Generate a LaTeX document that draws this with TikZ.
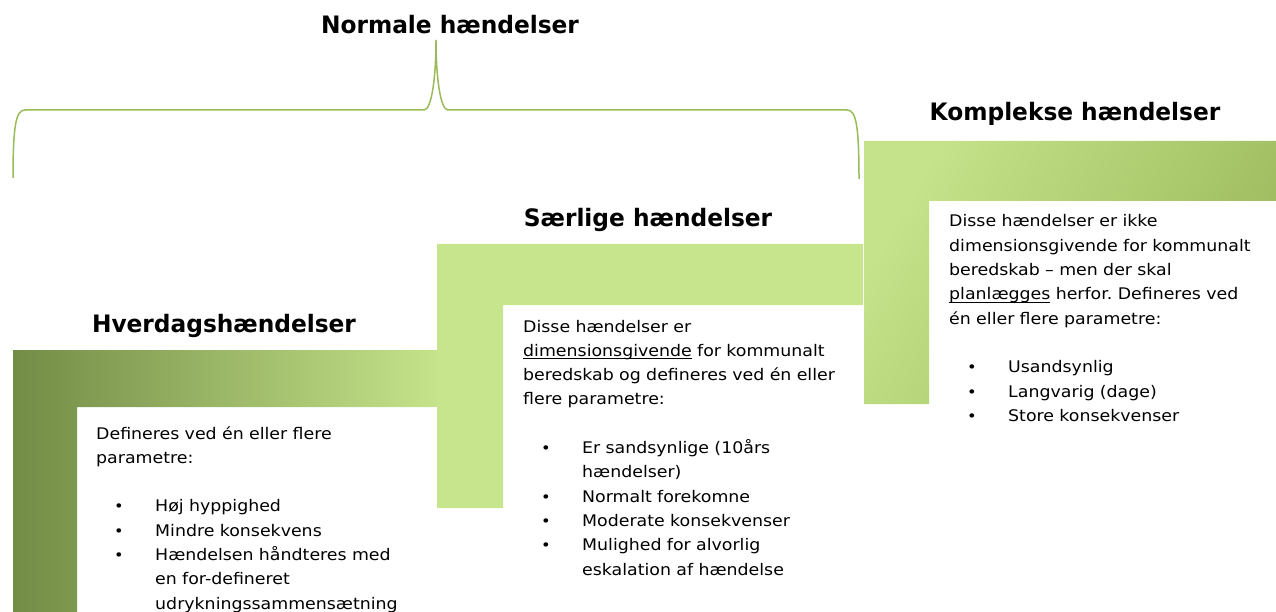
\documentclass[tikz,border=0pt]{standalone}
\usepackage{fontspec}
\setmainfont{DejaVu Sans}[FakeStretch=1.086]
\newfontfamily\headfont{DejaVu Sans}[FakeStretch=0.97]
\definecolor{bracegreen}{HTML}{9BBB59}
\definecolor{darkolive}{HTML}{738C46}
\definecolor{lightolive}{HTML}{C4E38A}
\definecolor{midolive}{HTML}{C6E58C}
\definecolor{deepolive}{HTML}{9CBA5C}
\newlength\ulwd
\newcommand\myul[1]{\leavevmode\settowidth\ulwd{#1}\rlap{\rule[-2.6pt]{\ulwd}{0.9pt}}#1}
\newcommand\bul{\leavevmode\hspace*{18pt}\makebox[41pt][l]{\fontsize{15pt}{15pt}\selectfont •}}
\newcommand\cont{\leavevmode\hspace*{59pt}}
\tikzset{
  headtext/.style={inner sep=0pt, anchor=base, font=\headfont\bfseries\fontsize{24pt}{29pt}\selectfont},
  bodytext/.style={inner sep=0pt, anchor=base west, text width=400pt, align=left,
    font=\fontsize{16pt}{24.3pt}\selectfont\frenchspacing},
  bracestyle/.style={draw=bracegreen, line width=1.5pt}
}
\begin{document}
\begin{tikzpicture}[x=1pt,y=-1pt]
\useasboundingbox (0,0) rectangle (1276,612);
% L-shaped bars
\shade[left color=darkolive, right color=lightolive]
  (13,350) -- (437,350) -- (437,407) -- (77,407) -- (77,620) -- (13,620) -- cycle;
\fill[midolive]
  (437,244) -- (863,244) -- (863,305) -- (503,305) -- (503,508) -- (437,508) -- cycle;
\shade[left color=lightolive, right color=deepolive, shading angle=60]
  (864,141) -- (1280,141) -- (1280,201) -- (929,201) -- (929,404) -- (864,404) -- cycle;
% brace
\draw[bracestyle] (13,178) .. controls (13,125) and (16,110) .. (25,110)
  -- (424,110) .. controls (432,110) and (436,75) .. (436,40)
  .. controls (436,75) and (440,110) .. (448,110)
  -- (847,110) .. controls (856,110) and (859,125) .. (859,179);
% titles
\node[headtext] (normal) at (450,34) {Normale hændelser};
\node[headtext] (hverdag) at (224,332) {Hverdagshændelser};
\node[headtext] (saerlig) at (648,227) {Særlige hændelser};
\node[headtext] (kompleks) at (1075,121) {Komplekse hændelser};
% bodies
\node[bodytext] (hverdagtxt) at (96,439) {Defineres ved én eller flere\\
parametre:\\[24.3pt]
\bul Høj hyppighed\\
\bul Mindre konsekvens\\
\bul Hændelsen håndteres med\\
\cont en for-defineret\\
\cont udrykningssammensætning};
\node[bodytext] (saerligtxt) at (523,332) {Disse hændelser er\\
\myul{dimensionsgivende} for kommunalt\\
beredskab og defineres ved én eller\\
flere parametre:\\[24.3pt]
\bul Er sandsynlige (10års\\
\cont hændelser)\\
\bul Normalt forekomne\\
\bul Moderate konsekvenser\\
\bul Mulighed for alvorlig\\
\cont eskalation af hændelse};
\node[bodytext] (komplekstxt) at (949,227) {Disse hændelser er ikke\\
dimensionsgivende for kommunalt\\
beredskab – men der skal\\
\myul{planlægges} herfor. Defineres ved\\
én eller flere parametre:\\[24.3pt]
\bul Usandsynlig\\
\bul Langvarig (dage)\\
\bul Store konsekvenser};
\end{tikzpicture}
\end{document}
